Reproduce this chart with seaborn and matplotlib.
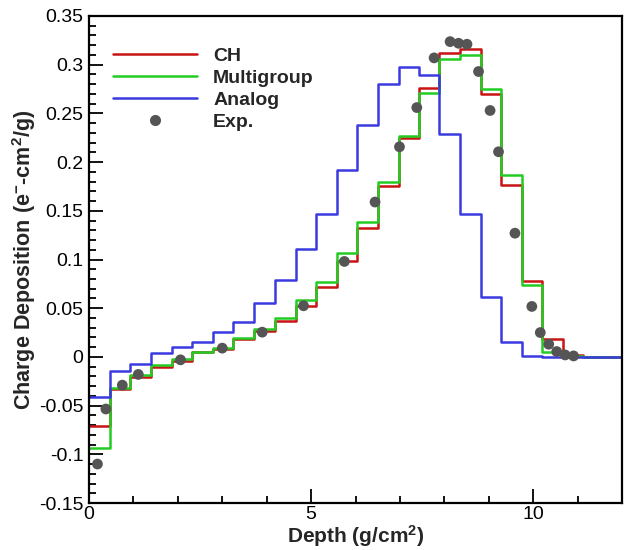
import matplotlib
matplotlib.use("Agg")
import matplotlib.pyplot as plt
import seaborn as sns
import pandas as pd
import numpy as np
from matplotlib.ticker import MultipleLocator, FixedLocator
from matplotlib.lines import Line2D

# ---- data ----
bin_edges = [0, 0.47, 0.93, 1.40, 1.86, 2.33, 2.79, 3.25, 3.72, 4.18, 4.65, 5.11, 5.58,
             6.04, 6.50, 6.97, 7.43, 7.89, 8.36, 8.82, 9.28, 9.74, 10.20, 10.67, 11.13,
             11.59, 12.0]
ch = [-0.071, -0.0333, -0.0202, -0.0099, -0.004, 0.0048, 0.0082, 0.018, 0.027, 0.037,
      0.0525, 0.0717, 0.098, 0.132, 0.175, 0.225, 0.2757, 0.3124, 0.3158, 0.270, 0.177,
      0.0775, 0.018, 0.002, 0.0, 0.0]
multigroup = [-0.094, -0.032, -0.0185, -0.0086, -0.002, 0.0055, 0.009, 0.0195, 0.0285,
              0.040, 0.058, 0.0768, 0.1067, 0.139, 0.180, 0.2266, 0.271, 0.3056, 0.31,
              0.2747, 0.187, 0.074, 0.0055, 0.001, 0.0, 0.0]
analog = [-0.0415, -0.0144, -0.0075, 0.0038, 0.0106, 0.0158, 0.0257, 0.0357, 0.0552,
          0.0785, 0.111, 0.147, 0.192, 0.238, 0.2805, 0.298, 0.289, 0.229, 0.147, 0.0614,
          0.0151, 0.001, 0.0, 0.0, 0.0, 0.0]
exp_x = [0.19, 0.38, 0.75, 1.11, 2.06, 3.00, 3.90, 4.83, 5.75, 6.44, 6.99, 7.38, 7.77,
         8.13, 8.32, 8.51, 8.77, 9.03, 9.22, 9.59, 9.97, 10.16, 10.35, 10.53, 10.72, 10.91]
exp_y = [-0.110, -0.0535, -0.029, -0.018, -0.003, 0.009, 0.0254, 0.0525, 0.098, 0.159,
         0.2157, 0.256, 0.307, 0.3237, 0.322, 0.321, 0.293, 0.253, 0.2106, 0.127, 0.0518,
         0.025, 0.013, 0.0055, 0.002, 0.001]
series_names = ["CH", "Multigroup", "Analog"]
series_colors = ["#c81414", "#22cc22", "#3a3ae0"]
y_ticks = [-0.15, -0.1, -0.05, 0, 0.05, 0.1, 0.15, 0.2, 0.25, 0.3, 0.35]
y_tick_labels = ["-0.15", "-0.1", "-0.05", "0", "0.05", "0.1", "0.15", "0.2", "0.25", "0.3", "0.35"]
x_ticks = [0, 5, 10]
x_tick_labels = ["0", "5", "10"]

# ---- style ----
sns.set_style("ticks")
plt.rcParams["font.family"] = ["Liberation Sans", "DejaVu Sans"]
plt.rcParams["mathtext.fontset"] = "custom"
plt.rcParams["mathtext.bf"] = "Liberation Sans:bold"
plt.rcParams["mathtext.rm"] = "Liberation Sans:bold"
plt.rcParams["mathtext.default"] = "bf"

rows = []
for name, vals in zip(series_names, [ch, multigroup, analog]):
    yy = list(vals) + [vals[-1]]
    for xe, ye in zip(bin_edges, yy):
        rows.append({"Depth": xe, "Value": ye, "Series": name})
df = pd.DataFrame(rows)
df_exp = pd.DataFrame({"Depth": exp_x, "Value": exp_y})

fig = plt.figure(figsize=(6.36, 5.5), dpi=100)
ax = fig.add_axes([89 / 636, 1 - 503 / 550, 533 / 636, 487 / 550])

sns.lineplot(data=df, x="Depth", y="Value", hue="Series", hue_order=series_names,
             palette=series_colors, drawstyle="steps-post", linewidth=1.8,
             estimator=None, sort=False, ax=ax, legend=False)
sns.scatterplot(data=df_exp, x="Depth", y="Value", color="#555555", s=60,
                edgecolor="none", ax=ax, zorder=5)

ax.set_xlim(0, 12)
ax.set_ylim(-0.15, 0.35)
ax.xaxis.set_major_locator(FixedLocator(x_ticks))
ax.set_xticklabels(x_tick_labels)
ax.xaxis.set_minor_locator(MultipleLocator(1))
ax.yaxis.set_major_locator(FixedLocator(y_ticks))
ax.set_yticklabels(y_tick_labels)
ax.yaxis.set_minor_locator(MultipleLocator(0.01))
ax.tick_params(which="both", direction="in", top=False, right=False, width=1.3,
               labelsize=14, colors="black")
ax.tick_params(which="major", length=10, pad=4)
ax.tick_params(axis="x", which="major", pad=2)
ax.tick_params(which="minor", length=5)
for sp in ax.spines.values():
    sp.set_linewidth(1.6)
    sp.set_color("black")
    sp.set_visible(True)

ax.set_xlabel(r"Depth (g/cm$^{2}$)", fontsize=15, fontweight="bold", labelpad=0)
ax.set_ylabel(r"Charge Deposition (e$^{-}$-cm$^{2}$/g)", fontsize=15.5,
              fontweight="bold", labelpad=1)

handles = [Line2D([], [], color=c, lw=1.8) for c in series_colors]
handles.append(Line2D([], [], color="#555555", marker="o", ls="none", markersize=8,
                      markeredgecolor="none"))
ax.legend(handles, series_names + ["Exp."], loc="upper left",
          bbox_to_anchor=(0.045, 0.935), frameon=False, handlelength=4.3,
          handletextpad=0.85, labelspacing=0.22, borderpad=0, borderaxespad=0,
          prop={"weight": "bold", "size": 14})

fig.savefig("out.png", dpi=100)
